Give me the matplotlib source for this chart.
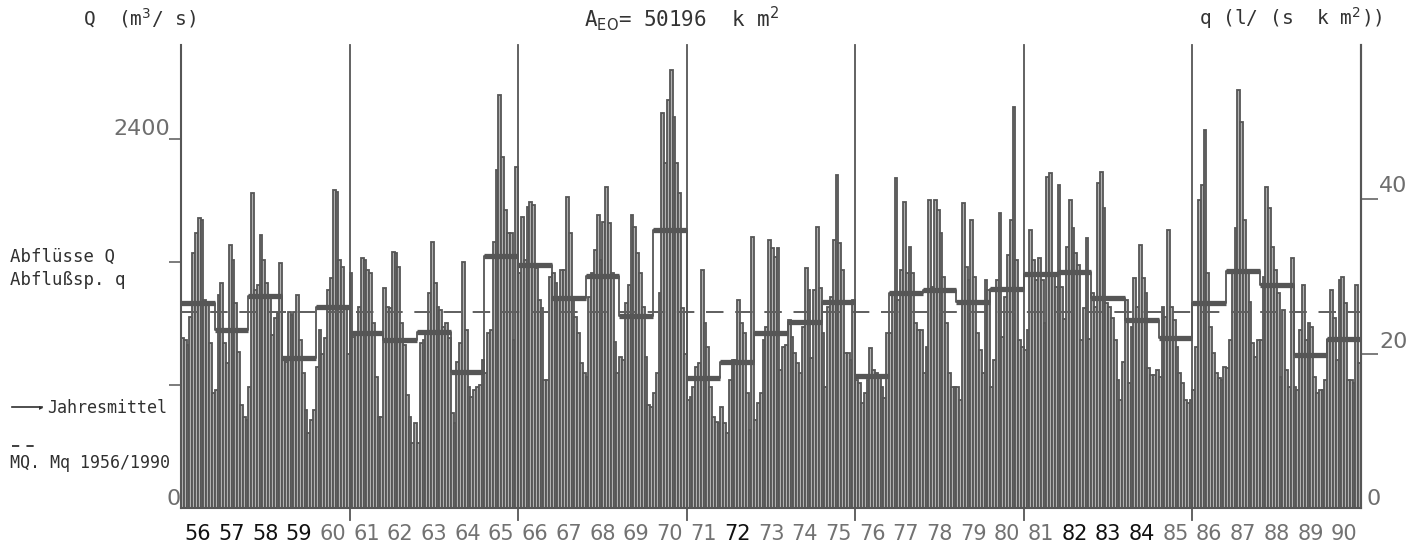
import matplotlib
matplotlib.use("Agg")
import matplotlib.pyplot as plt
from matplotlib import font_manager
import numpy as np

# ---------------- data ----------------
years = list(range(1956, 1991))
m56 = [1104, 1093, 1060, 1245, 1656, 1787, 1884, 1873, 1353, 1331, 1071, 746]
m57 = [768, 1385, 1461, 1071, 941, 1711, 1613, 1331, 1017, 670, 594, 572]
m58 = [789, 2047, 1418, 1450, 1776, 1613, 1461, 1375, 1125, 1234, 1266, 1591]
m59 = [963, 952, 1277, 1255, 1277, 1385, 1093, 876, 637, 486, 572, 637]
m60 = [919, 1158, 1000, 1104, 1418, 1494, 2068, 2058, 1613, 1570, 1300, 1000]
m61 = [1526, 1114, 1136, 1310, 1624, 1613, 1548, 1526, 1201, 854, 594, 594]
m62 = [1429, 1310, 1299, 1667, 1656, 1570, 1201, 1060, 735, 594, 421, 551]
m63 = [421, 1071, 1093, 1136, 1396, 1732, 1461, 1310, 1288, 1180, 1201, 1104]
m64 = [616, 551, 952, 1071, 1602, 1158, 789, 724, 768, 789, 800, 963]
m65 = [876, 1136, 1158, 1732, 2199, 2686, 2285, 1938, 1787, 1787, 1093, 2220]
m66 = [1526, 1895, 1613, 1960, 1992, 1971, 1560, 1353, 1300, 833, 833, 1500]
m67 = [1526, 1461, 1353, 1548, 1548, 2025, 1787, 1353, 1245, 1136, 941, 876]
m68 = [854, 1375, 1526, 1678, 1906, 1613, 1862, 2090, 1852, 1526, 1082, 876]
m69 = [984, 963, 1331, 1450, 1906, 1830, 1656, 1526, 1310, 984, 670, 659]
m70 = [746, 876, 1400, 2567, 2242, 2654, 2849, 2545, 2242, 2047, 1300, 1000]
m71 = [703, 724, 789, 919, 941, 1548, 1201, 1050, 789, 594, 562, 551]
m72 = [659, 551, 486, 833, 963, 963, 1353, 1201, 1136, 746, 507, 1765]
m73 = [572, 681, 746, 1093, 1180, 1743, 1689, 1635, 1689, 898, 1050, 1060]
m74 = [1223, 1114, 1006, 941, 876, 1180, 1559, 1418, 974, 1418, 1830, 1429]
m75 = [1136, 789, 1310, 1375, 1743, 2166, 1722, 1548, 1006, 1006, 963, 1353]
m76 = [833, 811, 681, 746, 833, 1039, 898, 876, 854, 789, 713, 1136]
m77 = [1136, 1396, 2144, 1353, 1548, 1992, 1526, 1700, 1526, 1201, 1158, 1158]
m78 = [876, 1050, 2003, 1440, 2003, 1938, 1787, 1500, 1200, 876, 789, 789]
m79 = [789, 703, 1982, 1570, 1483, 1873, 1505, 1136, 1028, 876, 1483, 1418]
m80 = [789, 963, 1483, 1917, 1114, 1375, 1646, 1873, 2610, 1613, 1093, 1050]
m81 = [1028, 1158, 1808, 1613, 1483, 1624, 1483, 1201, 2155, 2177, 1526, 1440]
m82 = [2100, 1440, 1230, 1700, 2003, 1819, 1656, 1581, 1093, 1300, 1754, 1100]
m83 = [1396, 1310, 2112, 2188, 1949, 1331, 1310, 1234, 1093, 833, 703, 952]
m84 = [1353, 811, 1180, 1494, 1310, 1711, 1494, 1396, 908, 865, 865, 898]
m85 = [854, 1310, 1245, 1808, 1310, 1223, 1050, 876, 811, 700, 680, 700]
m86 = [768, 1050, 2003, 2101, 2459, 1526, 1180, 1006, 876, 844, 833, 919]
m87 = [909, 1093, 1548, 1819, 2719, 2513, 1873, 1526, 1342, 1071, 984, 1093]
m88 = [1093, 1500, 2090, 1950, 1700, 1550, 1400, 854, 1288, 898, 789, 1624]
m89 = [789, 768, 1158, 1450, 1093, 1201, 1180, 854, 746, 768, 768, 833]
m90 = [1093, 1418, 1234, 963, 1483, 1505, 1331, 833, 833, 811, 1450, 941]

annual_mean = [1333, 1158, 1381, 975, 1309, 1138, 1093, 1145, 885, 1639,
               1580, 1366, 1511, 1251, 1808, 848, 952, 1138, 1212, 1338,
               859, 1396, 1418, 1342, 1422, 1520, 1537, 1364, 1223, 1108,
               1331, 1544, 1450, 995, 1097]
MQ = 1277
area_km2 = 50196
year_labels = ["%02d" % (y % 100) for y in years]
dark_labels = {"56", "57", "58", "59", "72", "82", "83", "84"}

monthly = [m56, m57, m58, m59, m60, m61, m62, m63, m64, m65, m66, m67, m68,
           m69, m70, m71, m72, m73, m74, m75, m76, m77, m78, m79, m80, m81,
           m82, m83, m84, m85, m86, m87, m88, m89, m90]

# narrow font for year labels if available
narrow = "DejaVu Sans"
try:
    font_manager.findfont("Liberation Sans Narrow", fallback_to_default=False)
    narrow = "Liberation Sans Narrow"
except Exception:
    pass

# ---------------- figure ----------------
W, H = 1424, 558
fig = plt.figure(figsize=(W / 100, H / 100), dpi=100)
fig.patch.set_facecolor("white")

def fx(px):
    return px / W

def fy(py):
    return 1 - py / H

ax_l, ax_r, ax_b, ax_t = 181, 1361, 508, 45
ax = fig.add_axes([fx(ax_l), fy(ax_b), (ax_r - ax_l) / W, (ax_b - ax_t) / H])
ymax = 3011
ax.set_xlim(1956, 1991)
ax.set_ylim(0, ymax)

edge = "#565656"
face = "#b2b2b2"

xs, hs = [], []
for y, vals in zip(years, monthly):
    for i, v in enumerate(vals):
        xs.append(y + (i + 0.5) / 12)
        hs.append(v)
ax.bar(xs, hs, width=1 / 12, facecolor=face, edgecolor=edge, linewidth=1.3, zorder=2)

# annual means
yrs = np.array(years)
ax.hlines(annual_mean, yrs, yrs + 1, colors=edge, linewidth=3.8, zorder=4)
ax.step(list(yrs) + [1991], annual_mean + [annual_mean[-1]], where="post",
        color=edge, linewidth=1.3, zorder=3)

# MQ dashed line
ax.axhline(MQ, color="#5e5e5e", linewidth=1.4, linestyle=(0, (9, 6)), zorder=5)

# spines
ax.spines["top"].set_visible(False)
for s in ["left", "right", "bottom"]:
    ax.spines[s].set_color(edge)
    ax.spines[s].set_linewidth(1.5)

ax.set_xticks([])
ax.set_yticks([800, 1600, 2400])
ax.set_yticklabels([])
ax.tick_params(axis="y", direction="out", length=9, width=1.2, color="#666666")

# right axis (specific discharge)
ax2 = ax.twinx()
ax2.set_ylim(0, ymax * 1000 / area_km2)
ax2.set_yticks([20, 40])
ax2.set_yticklabels([])
ax2.tick_params(axis="y", direction="out", length=12, width=1.2, color="#666666")
for s in ["top", "left", "bottom"]:
    ax2.spines[s].set_visible(False)
ax2.spines["right"].set_color(edge)
ax2.spines["right"].set_linewidth(1.5)

# 5-year boundary lines
for yb in [1961, 1966, 1971, 1976, 1981, 1986]:
    ax.plot([yb, yb], [-80, ymax], color=edge, linewidth=1.3, clip_on=False, zorder=6)

# year labels
ysz = 18 if narrow != "DejaVu Sans" else 15
for y, lab in zip(years, year_labels):
    c = "#111111" if lab in dark_labels else "#727272"
    ax.text(y + 0.5, -0.056, lab, transform=ax.get_xaxis_transform(),
            ha="center", va="center", fontsize=ysz, color=c, family=narrow)

# axis value labels
tc = "#6e6e6e"
fig.text(fx(170), fy(139), "2400", ha="right", va="bottom", fontsize=16, color=tc)
fig.text(fx(181), fy(509), "0", ha="right", va="bottom", fontsize=16, color=tc)
fig.text(fx(1379), fy(196), "40", ha="left", va="bottom", fontsize=16, color=tc)
fig.text(fx(1379), fy(352), "20", ha="left", va="bottom", fontsize=16, color=tc)
fig.text(fx(1367), fy(509), "0", ha="left", va="bottom", fontsize=16, color=tc)

# headers
hc = "#333333"
mono = "DejaVu Sans Mono"
fig.text(fx(83), fy(18), r"Q  (m$^3$/ s)", ha="left", va="center", fontsize=14,
         color=hc, family=mono)
fig.text(fx(682), fy(19), r"A$_{\rm EO}$= 50196  k m$^2$", ha="center", va="center",
         fontsize=15, color=hc, family=mono)
fig.text(fx(1383), fy(18), r"q (l/ (s  k m$^2$))", ha="right", va="center",
         fontsize=14, color=hc, family=mono)

# left legend
lc = "#303030"
fig.text(fx(10), fy(257), "Abflüsse Q", ha="left", va="center", fontsize=12.5,
         family=mono, color=lc)
fig.text(fx(10), fy(280), "Abflußsp. q", ha="left", va="center", fontsize=12.5,
         family=mono, color=lc)
fig.add_artist(matplotlib.lines.Line2D([fx(12), fx(42)], [fy(407), fy(407)],
                                        color=lc, linewidth=1.2))
fig.text(fx(41), fy(407), "\u25b8", ha="center", va="center", fontsize=6, color=lc)
fig.text(fx(47), fy(408), "Jahresmittel", ha="left", va="center", fontsize=12,
         family=mono, color=lc)
fig.add_artist(matplotlib.lines.Line2D([fx(12), fx(38)], [fy(446), fy(446)],
                                        color=lc, linewidth=1.3, linestyle=(0, (4, 4))))
fig.text(fx(10), fy(463), "MQ. Mq 1956/1990", ha="left", va="center", fontsize=12,
         family=mono, color=lc)

fig.savefig("out.png", dpi=100, facecolor="white")
